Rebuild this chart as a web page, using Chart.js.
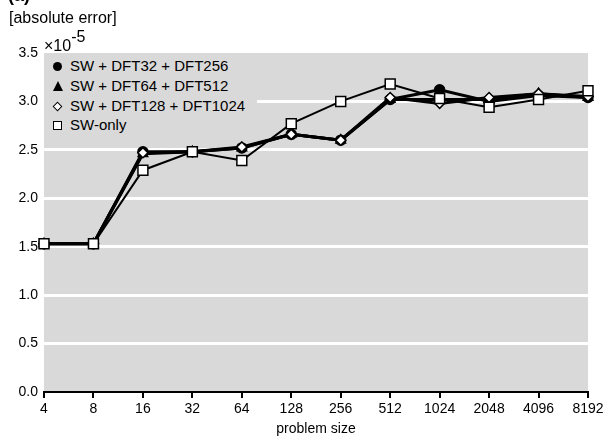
<!DOCTYPE html>
<html>
<head>
<meta charset="utf-8">
<script src="https://cdn.jsdelivr.net/npm/chart.js@4.4.1/dist/chart.umd.min.js"></script>
<style>
  body { margin: 0; background: #fff; font-family: 'Liberation Sans', Arial, sans-serif; }
  #wrap { position: relative; width: 614px; height: 448px; overflow: hidden; }
  #chart { position: absolute; left: 0; top: 0; }
  .txt { position: absolute; color: #000; white-space: nowrap; line-height: 16px; }
  #legend { position: absolute; left: 44px; top: 54px; width: 213px; height: 84px; background: #d9d9d9; }
  .row { position: absolute; left: 0; height: 20px; width: 213px; font-size: 15px; line-height: 20px; }
  .row span.lbl { position: absolute; left: 26px; top: 0; }
  .mk { position: absolute; box-sizing: border-box; }
  .mk.circle { left: 9px; top: 6px; width: 9px; height: 9px; border-radius: 50%; background: #000; }
  .mk.tri { left: 9px; top: 5px; width: 0; height: 0; border-left: 5px solid transparent; border-right: 5px solid transparent; border-bottom: 10px solid #000; }
  .mk.diamond { left: 10px; top: 7px; width: 7px; height: 7px; background: #fff; border: 1.5px solid #000; transform: rotate(45deg); }
  .mk.square { left: 9px; top: 6px; width: 9px; height: 9px; background: #fff; border: 1.5px solid #000; }
</style>
</head>
<body>
<div id="wrap">
  <canvas id="chart" width="614" height="448"></canvas>
  <div class="txt" style="left:8px; top:-14px; font-size:18px; font-weight:bold; line-height:18px;">(a)</div>
  <div class="txt" style="left:9px; top:10px; font-size:16px;">[absolute error]</div>
  <div class="txt" style="left:44px; top:38px; font-size:16px;">&times;10<span style="position:relative; top:-9px;">-5</span></div>
  <div id="legend"></div>
</div>
<script>
// problem sizes on the x axis
const sizes = ['4', '8', '16', '32', '64', '128', '256', '512', '1024', '2048', '4096', '8192'];

// absolute error, in units of 1e-5
const errDft32 = [1.53, 1.53, 2.48, 2.48, 2.52, 2.66, 2.60, 3.02, 3.12, 3.00, 3.06, 3.04];
const errDft64 = [1.53, 1.53, 2.46, 2.48, 2.52, 2.66, 2.60, 3.02, 3.02, 3.02, 3.08, 3.04];
const errDft128 = [1.53, 1.53, 2.47, 2.48, 2.53, 2.66, 2.60, 3.04, 2.98, 3.04, 3.08, 3.05];
const errSwOnly = [1.53, 1.53, 2.29, 2.48, 2.39, 2.77, 3.00, 3.18, 3.03, 2.94, 3.02, 3.11];

const seriesNames = ['SW + DFT32 + DFT256', 'SW + DFT64 + DFT512', 'SW + DFT128 + DFT1024', 'SW-only'];
const yTicks = [0, 0.5, 1.0, 1.5, 2.0, 2.5, 3.0, 3.5];

const plotBg = '#d9d9d9';

// legend rows (html, sits on top of the plot area)
const markerCls = ['circle', 'tri', 'diamond', 'square'];
const legend = document.getElementById('legend');
const rowTops = [2, 22, 42, 61];
seriesNames.forEach((name, i) => {
  const row = document.createElement('div');
  row.className = 'row';
  row.style.top = rowTops[i] + 'px';
  row.innerHTML = `<div class="mk ${markerCls[i]}"></div><span class="lbl">${name}</span>`;
  legend.appendChild(row);
});

const areaFill = {
  id: 'areaFill',
  beforeDraw(chart) {
    const { ctx, chartArea: a } = chart;
    ctx.save();
    ctx.fillStyle = plotBg;
    ctx.fillRect(a.left, a.top, a.right - a.left, a.bottom - a.top);
    ctx.restore();
  }
};

function series(label, data, style, fill, radius, width, order) {
  return {
    label, data, order,
    borderColor: '#000',
    borderWidth: width,
    pointStyle: style,
    pointRadius: radius,
    pointBackgroundColor: fill,
    pointBorderColor: '#000',
    pointBorderWidth: 1.5,
    tension: 0,
    clip: false
  };
}

new Chart(document.getElementById('chart'), {
  type: 'line',
  data: {
    labels: sizes,
    datasets: [
      series(seriesNames[0], errDft32, 'circle', '#000', 5, 3, 4),
      series(seriesNames[1], errDft64, 'triangle', '#000', 5.5, 3, 3),
      series(seriesNames[2], errDft128, 'rectRot', '#fff', 5, 3, 2),
      series(seriesNames[3], errSwOnly, 'rect', '#fff', 7, 2, 1)
    ]
  },
  options: {
    responsive: false,
    devicePixelRatio: 1,
    animation: false,
    layout: { padding: { top: 53, right: 26, bottom: 6, left: 0 } },
    plugins: { legend: { display: false }, tooltip: { enabled: false } },
    scales: {
      x: {
        offset: false,
        afterFit: (s) => { s.height = 50; },
        grid: { drawOnChartArea: false, drawTicks: true, tickLength: 6, color: '#000', lineWidth: 2 },
        border: { display: true, color: '#000', width: 2 },
        ticks: {
          color: '#000', padding: 3, maxRotation: 0, autoSkip: false,
          font: { family: "'Liberation Sans', Arial", size: 14 }
        },
        title: {
          display: true, text: 'problem size', color: '#000',
          font: { family: "'Liberation Sans', Arial", size: 14 }
        }
      },
      y: {
        min: 0,
        max: 3.5,
        afterFit: (s) => { s.width = 44; },
        afterBuildTicks: (s) => { s.ticks = yTicks.map(v => ({ value: v })); },
        grid: {
          drawTicks: false,
          lineWidth: 3,
          color: (c) => (c.tick && (c.tick.value === 0 || c.tick.value === 3.5)) ? 'rgba(0,0,0,0)' : '#fff'
        },
        border: { display: false },
        ticks: {
          color: '#000', padding: 6,
          font: { family: "'Liberation Sans', Arial", size: 14 },
          callback: (v) => Number(v).toFixed(1)
        }
      }
    }
  },
  plugins: [areaFill]
});
</script>
</body>
</html>
